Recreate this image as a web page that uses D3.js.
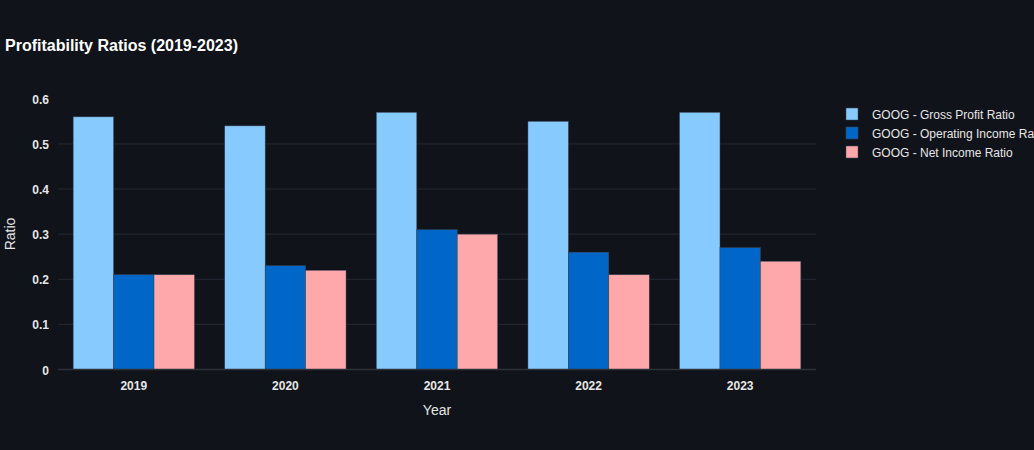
<!DOCTYPE html>
<html><head><meta charset="utf-8">
<script src="https://cdn.jsdelivr.net/npm/d3@7"></script>
<style>html,body{margin:0;padding:0;background:#10131a;overflow:hidden}svg{display:block}</style>
</head><body>
<script>
const years = ["2019","2020","2021","2022","2023"];
const grossProfit = [0.56,0.54,0.57,0.55,0.57];
const operatingIncome = [0.21,0.23,0.31,0.26,0.27];
const netIncome = [0.21,0.22,0.30,0.21,0.24];
const seriesNames = ["GOOG - Gross Profit Ratio","GOOG - Operating Income Ratio","GOOG - Net Income Ratio"];
const seriesColors = ["#87CAFD","#0066C8","#FFA8AB"];
const yTicks = [0,0.1,0.2,0.3,0.4,0.5,0.6];

const W=1034,H=450;
const m={l:58,r:218,t:99,b:80};
const font='"Liberation Sans", Arial, sans-serif';
const svg=d3.select("body").append("svg").attr("width",W).attr("height",H).style("font-family",font);
svg.append("rect").attr("width",W).attr("height",H).attr("fill","#10131a");

const x=d3.scaleBand().domain(years).range([m.l,W-m.r]).paddingInner(0.2).paddingOuter(0.1);
const x0=d3.scaleBand().domain(years).range([m.l,W-m.r]);
const y=d3.scaleLinear().domain([0,0.6]).range([369.5,98.8]);
const data=[grossProfit,operatingIncome,netIncome];
const xs=d3.scaleBand().domain(d3.range(3)).range([0,x.bandwidth()]);

// grid
svg.append("g").selectAll("line").data(yTicks.filter(d=>d>0 && d<0.6)).join("line")
 .attr("x1",m.l).attr("x2",W-m.r).attr("y1",d=>y(d)).attr("y2",d=>y(d))
 .attr("stroke","#262a33").attr("stroke-width",1);

// bars
data.forEach((vals,si)=>{
  svg.append("g").selectAll("rect").data(vals).join("rect")
   .attr("x",(d,i)=>x(years[i])+xs(si)).attr("width",xs.bandwidth())
   .attr("y",d=>y(d)).attr("height",d=>y(0)-y(d))
   .attr("fill",seriesColors[si]).attr("stroke","#3a4656").attr("stroke-width",0.5);
});

// zero line
svg.append("line").attr("x1",m.l).attr("x2",W-m.r).attr("y1",y(0)).attr("y2",y(0)).attr("stroke","#2c313a").attr("stroke-width",1.5);

// y tick labels
svg.append("g").selectAll("text").data(yTicks).join("text")
 .attr("x",49).attr("y",d=>y(d)+5).attr("text-anchor","end")
 .attr("fill","#e6e6e6").attr("font-size",12).attr("font-weight","bold").text(d=>d===0?"0":d3.format(".1f")(d));

// x tick labels
svg.append("g").selectAll("text").data(years).join("text")
 .attr("x",d=>x0(d)+x0.bandwidth()/2).attr("y",390).attr("text-anchor","middle")
 .attr("fill","#e6e6e6").attr("font-size",12).attr("font-weight","bold").text(d=>d);

// axis titles
svg.append("text").attr("x",(m.l+W-m.r)/2).attr("y",415).attr("text-anchor","middle")
 .attr("fill","#e6e6e6").attr("font-size",14).text("Year");
svg.append("text").attr("transform","translate(15,234) rotate(-90)").attr("text-anchor","middle")
 .attr("fill","#e6e6e6").attr("font-size",14).text("Ratio");

// title
svg.append("text").attr("x",5).attr("y",51).attr("fill","#ffffff").attr("font-size",16).attr("font-weight","bold")
 .text("Profitability Ratios (2019-2023)");

// legend
const lg=svg.append("g");
seriesNames.forEach((n,i)=>{
  const yy=114+i*19;
  lg.append("rect").attr("x",846).attr("y",yy-6).attr("width",12).attr("height",12).attr("fill",seriesColors[i]).attr("stroke","#3a4656").attr("stroke-width",0.5);
  lg.append("text").attr("x",872).attr("y",yy+4.5).attr("fill","#e6e6e6").attr("font-size",12).text(n);
});
</script>
</body></html>
